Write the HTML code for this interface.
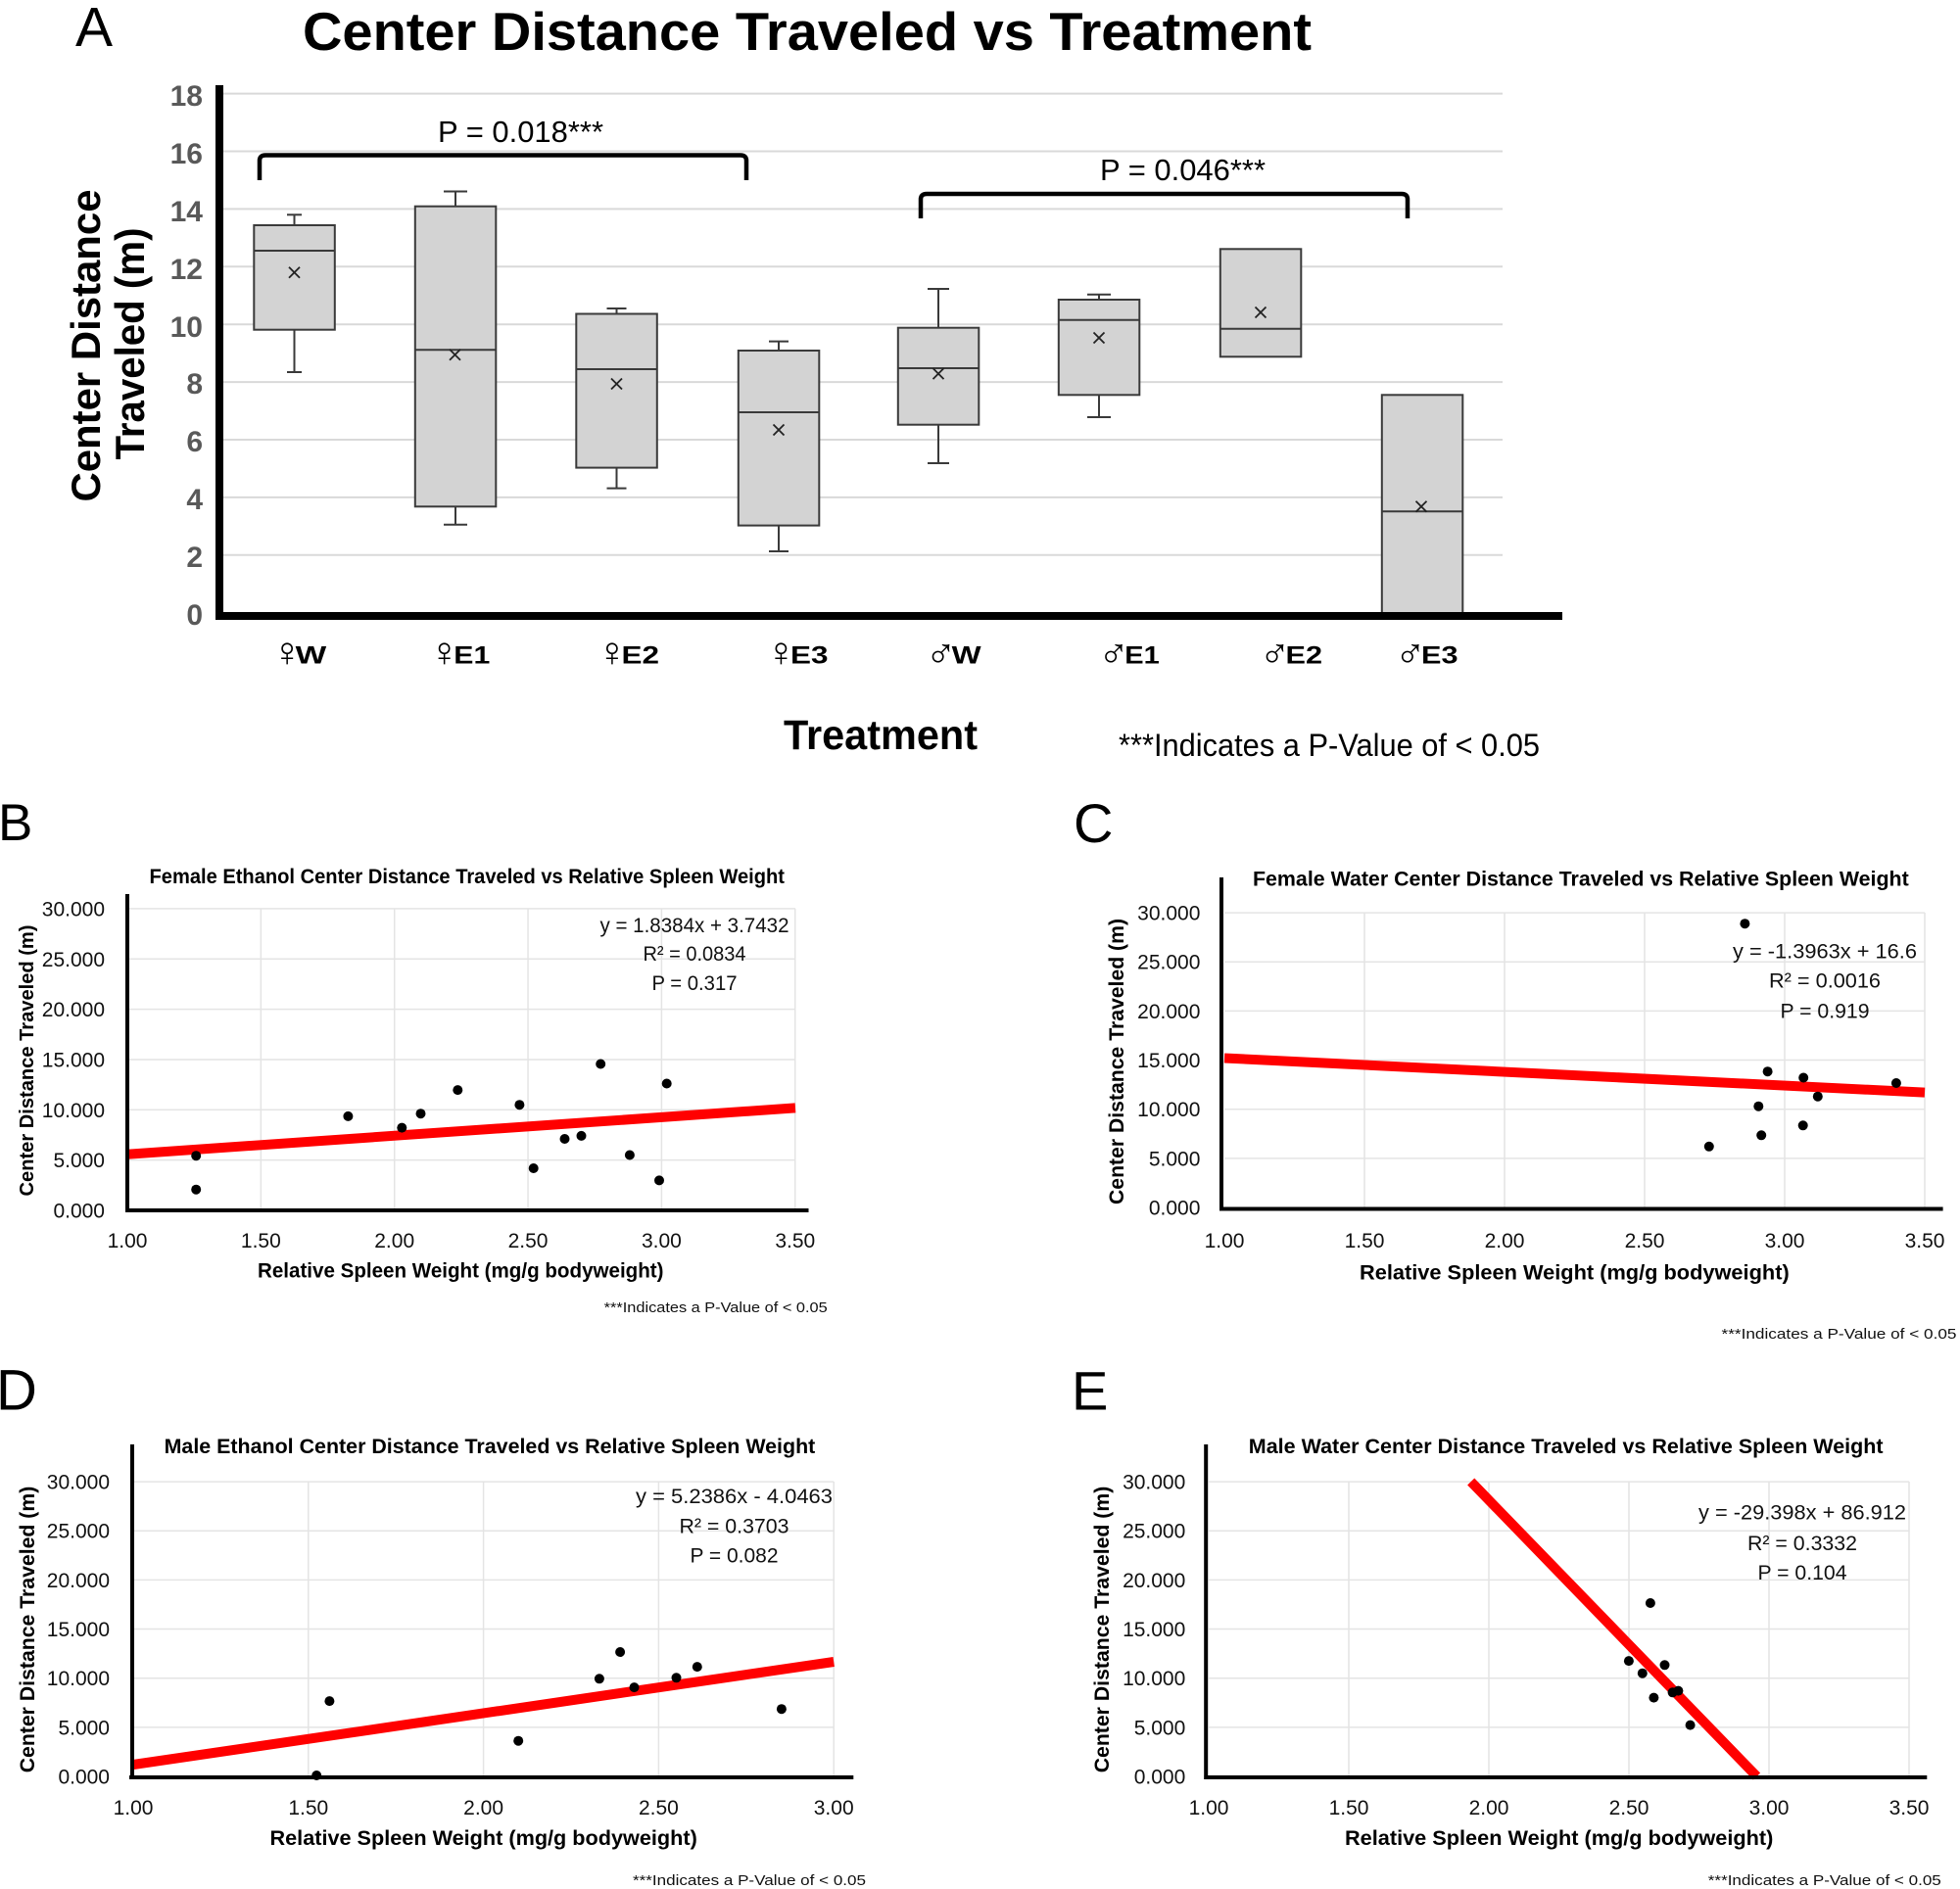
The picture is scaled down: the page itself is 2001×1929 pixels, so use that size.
<!DOCTYPE html>
<html><head><meta charset="utf-8"><style>
html,body{margin:0;padding:0;background:#fff;}
svg{display:block;}
text{font-family:"Liberation Sans","DejaVu Sans",sans-serif;}
</style></head><body>
<svg width="2001" height="1929" viewBox="0 0 2001 1929" xmlns="http://www.w3.org/2000/svg">
<rect width="2001" height="1929" fill="#fff"/>

<!-- ========== PANEL A ========== -->
<text x="77" y="47" font-size="57" fill="#000">A</text>
<text x="309" y="51" font-size="55" font-weight="bold" fill="#000" textLength="1030" lengthAdjust="spacingAndGlyphs">Center Distance Traveled vs Treatment</text>

<g stroke="#d9d9d9" stroke-width="2">
<line x1="228" y1="566.8" x2="1534" y2="566.8"/>
<line x1="228" y1="507.9" x2="1534" y2="507.9"/>
<line x1="228" y1="449" x2="1534" y2="449"/>
<line x1="228" y1="390.1" x2="1534" y2="390.1"/>
<line x1="228" y1="331.2" x2="1534" y2="331.2"/>
<line x1="228" y1="272.3" x2="1534" y2="272.3"/>
<line x1="228" y1="213.4" x2="1534" y2="213.4"/>
<line x1="228" y1="154.5" x2="1534" y2="154.5"/>
<line x1="228" y1="95.6" x2="1534" y2="95.6"/>
</g>

<g font-size="30" font-weight="bold" fill="#595959" text-anchor="end">
<text x="207" y="638">0</text>
<text x="207" y="579">2</text>
<text x="207" y="520">4</text>
<text x="207" y="461">6</text>
<text x="207" y="402">8</text>
<text x="207" y="344">10</text>
<text x="207" y="285">12</text>
<text x="207" y="226">14</text>
<text x="207" y="167">16</text>
<text x="207" y="108">18</text>
</g>

<g font-size="42" font-weight="bold" fill="#000" text-anchor="middle">
<text transform="translate(102,353) rotate(-90)" textLength="319" lengthAdjust="spacingAndGlyphs">Center Distance</text>
<text transform="translate(147,351) rotate(-90)" textLength="237" lengthAdjust="spacingAndGlyphs">Traveled (m)</text>
</g>

<g stroke="#3a3a3a" stroke-width="2" fill="#d3d3d3">
<line x1="300.5" y1="219.3" x2="300.5" y2="230"/><line x1="293" y1="219.3" x2="308" y2="219.3"/>
<line x1="300.5" y1="336.7" x2="300.5" y2="380"/><line x1="293" y1="380" x2="308" y2="380"/>
<rect x="259.3" y="230" width="82.5" height="106.7"/>
<line x1="259.3" y1="256" x2="341.8" y2="256"/>
<line x1="465" y1="195.5" x2="465" y2="210.7"/><line x1="453" y1="195.5" x2="477" y2="195.5"/>
<line x1="465" y1="517.3" x2="465" y2="535.7"/><line x1="453" y1="535.7" x2="477" y2="535.7"/>
<rect x="423.8" y="210.7" width="82.5" height="306.6"/>
<line x1="423.8" y1="357.3" x2="506.3" y2="357.3"/>
<line x1="629.5" y1="315" x2="629.5" y2="320.5"/><line x1="619.5" y1="315" x2="639.5" y2="315"/>
<line x1="629.5" y1="477.6" x2="629.5" y2="498.6"/><line x1="619.5" y1="498.6" x2="639.5" y2="498.6"/>
<rect x="588.3" y="320.5" width="82.5" height="157.1"/>
<line x1="588.3" y1="377" x2="670.8" y2="377"/>
<line x1="795" y1="348.6" x2="795" y2="358"/><line x1="785" y1="348.6" x2="805" y2="348.6"/>
<line x1="795" y1="536.6" x2="795" y2="563"/><line x1="785" y1="563" x2="805" y2="563"/>
<rect x="753.8" y="358" width="82.5" height="178.6"/>
<line x1="753.8" y1="421" x2="836.3" y2="421"/>
<line x1="958" y1="295" x2="958" y2="334.7"/><line x1="947" y1="295" x2="969" y2="295"/>
<line x1="958" y1="433.7" x2="958" y2="473"/><line x1="947" y1="473" x2="969" y2="473"/>
<rect x="916.8" y="334.7" width="82.5" height="99"/>
<line x1="916.8" y1="376" x2="999.3" y2="376"/>
<line x1="1122" y1="300.7" x2="1122" y2="306"/><line x1="1110" y1="300.7" x2="1134" y2="300.7"/>
<line x1="1122" y1="403.3" x2="1122" y2="426"/><line x1="1110" y1="426" x2="1134" y2="426"/>
<rect x="1080.8" y="306" width="82.5" height="97.3"/>
<line x1="1080.8" y1="326.7" x2="1163.3" y2="326.7"/>
<rect x="1245.8" y="254.3" width="82.5" height="110"/>
<line x1="1245.8" y1="335.7" x2="1328.3" y2="335.7"/>
<rect x="1410.8" y="403.3" width="82.5" height="223.4"/>
<line x1="1410.8" y1="522.3" x2="1493.3" y2="522.3"/>
</g>

<g stroke="#222" stroke-width="1.8">
<path d="M295,272.8 L306,283.8 M306,272.8 L295,283.8"/>
<path d="M459,356.8 L470,367.8 M470,356.8 L459,367.8"/>
<path d="M624,386.5 L635,397.5 M635,386.5 L624,397.5"/>
<path d="M789.5,433.5 L800.5,444.5 M800.5,433.5 L789.5,444.5"/>
<path d="M952.5,376.1 L963.5,387.1 M963.5,376.1 L952.5,387.1"/>
<path d="M1116.5,339.5 L1127.5,350.5 M1127.5,339.5 L1116.5,350.5"/>
<path d="M1281.5,313.5 L1292.5,324.5 M1292.5,313.5 L1281.5,324.5"/>
<path d="M1445.5,511.8 L1456.5,522.8 M1456.5,511.8 L1445.5,522.8"/>
</g>

<line x1="224" y1="87" x2="224" y2="633" stroke="#000" stroke-width="8"/>
<line x1="220" y1="629" x2="1595" y2="629" stroke="#000" stroke-width="8"/>

<g fill="none" stroke="#000" stroke-width="4.5" stroke-linejoin="round">
<path d="M265,184 L265,164 Q265,158.5 271,158.5 L756,158.5 Q762,158.5 762,164 L762,184"/>
<path d="M940,223 L940,203.5 Q940,198 946,198 L1431,198 Q1437,198 1437,203.5 L1437,223"/>
</g>
<text x="447" y="145" font-size="31" fill="#000" textLength="169" lengthAdjust="spacingAndGlyphs">P = 0.018***</text>
<text x="1123" y="184" font-size="31" fill="#000" textLength="169" lengthAdjust="spacingAndGlyphs">P = 0.046***</text>

<g font-size="42" font-weight="bold" fill="#000" font-family="'DejaVu Sans',sans-serif" text-anchor="middle">
<text x="293.3" y="680">♀</text>
<text x="453.7" y="680">♀</text>
<text x="625" y="680">♀</text>
<text x="797.5" y="680">♀</text>
<text x="960.5" y="680">♂</text>
<text x="1137" y="680">♂</text>
<text x="1301.5" y="680">♂</text>
<text x="1439.8" y="680">♂</text>
</g>
<g font-size="25" font-weight="bold" fill="#000">
<text x="301.7" y="677.5" textLength="31.6" lengthAdjust="spacingAndGlyphs">W</text>
<text x="463.3" y="677.5" textLength="37" lengthAdjust="spacingAndGlyphs">E1</text>
<text x="634.5" y="677.5" textLength="38.5" lengthAdjust="spacingAndGlyphs">E2</text>
<text x="807" y="677.5" textLength="38.5" lengthAdjust="spacingAndGlyphs">E3</text>
<text x="971.7" y="677.5" textLength="30" lengthAdjust="spacingAndGlyphs">W</text>
<text x="1148.3" y="677.5" textLength="35.5" lengthAdjust="spacingAndGlyphs">E1</text>
<text x="1312.5" y="677.5" textLength="37.5" lengthAdjust="spacingAndGlyphs">E2</text>
<text x="1451" y="677.5" textLength="37.5" lengthAdjust="spacingAndGlyphs">E3</text>
</g>
<text x="800" y="765" font-size="43" font-weight="bold" fill="#000" textLength="198" lengthAdjust="spacingAndGlyphs">Treatment</text>
<text x="1142" y="772" font-size="32" fill="#000" textLength="430" lengthAdjust="spacingAndGlyphs">***Indicates a P-Value of &lt; 0.05</text>

<!-- ========== PANEL B ========== -->
<text x="-2" y="858" font-size="53" fill="#000">B</text>
<text x="152.5" y="902" font-size="21" font-weight="bold" fill="#000" textLength="648.5" lengthAdjust="spacingAndGlyphs">Female Ethanol Center Distance Traveled vs Relative Spleen Weight</text>
<g stroke="#e4e4e4" stroke-width="1.5">
<line x1="130" y1="1184.65" x2="812" y2="1184.65"/>
<line x1="130" y1="1133.3" x2="812" y2="1133.3"/>
<line x1="130" y1="1081.95" x2="812" y2="1081.95"/>
<line x1="130" y1="1030.6" x2="812" y2="1030.6"/>
<line x1="130" y1="979.25" x2="812" y2="979.25"/>
<line x1="130" y1="927.9" x2="812" y2="927.9"/>
<line x1="266.35" y1="928" x2="266.35" y2="1236"/>
<line x1="402.7" y1="928" x2="402.7" y2="1236"/>
<line x1="539.05" y1="928" x2="539.05" y2="1236"/>
<line x1="675.4" y1="928" x2="675.4" y2="1236"/>
<line x1="811.75" y1="928" x2="811.75" y2="1236"/>
</g>
<g font-size="21" fill="#111" text-anchor="end">
<text x="107" y="1243.5">0.000</text>
<text x="107" y="1192">5.000</text>
<text x="107" y="1141">10.000</text>
<text x="107" y="1089.5">15.000</text>
<text x="107" y="1038">20.000</text>
<text x="107" y="987">25.000</text>
<text x="107" y="935.5">30.000</text>
</g>
<g font-size="21" fill="#111" text-anchor="middle">
<text x="130" y="1274">1.00</text>
<text x="266.35" y="1274">1.50</text>
<text x="402.7" y="1274">2.00</text>
<text x="539.05" y="1274">2.50</text>
<text x="675.4" y="1274">3.00</text>
<text x="811.75" y="1274">3.50</text>
</g>
<text x="263" y="1304.5" font-size="21" font-weight="bold" fill="#000" textLength="414.5" lengthAdjust="spacingAndGlyphs">Relative Spleen Weight (mg/g bodyweight)</text>
<text transform="translate(34,1083) rotate(-90)" text-anchor="middle" font-size="20" font-weight="bold" fill="#000" textLength="277" lengthAdjust="spacingAndGlyphs">Center Distance Traveled (m)</text>
<line x1="130" y1="1178.7" x2="812" y2="1131.4" stroke="#ff0000" stroke-width="10"/>
<g fill="#000">
<circle cx="200.2" cy="1180.2" r="5"/><circle cx="200.2" cy="1214.7" r="5"/><circle cx="355.4" cy="1139.9" r="5"/>
<circle cx="410.3" cy="1151.6" r="5"/><circle cx="429.5" cy="1137.2" r="5"/><circle cx="467.3" cy="1113.1" r="5"/>
<circle cx="530.4" cy="1128.2" r="5"/><circle cx="544.7" cy="1193" r="5"/><circle cx="576.5" cy="1163" r="5"/>
<circle cx="593.5" cy="1159.9" r="5"/><circle cx="613.2" cy="1086.5" r="5"/><circle cx="642.9" cy="1179.5" r="5"/>
<circle cx="673" cy="1205.4" r="5"/><circle cx="680.7" cy="1106.5" r="5"/>
</g>
<line x1="130" y1="913" x2="130" y2="1238" stroke="#000" stroke-width="4"/>
<line x1="128" y1="1236" x2="825.5" y2="1236" stroke="#000" stroke-width="4"/>
<g font-size="21" fill="#111" text-anchor="middle">
<text x="709" y="952" textLength="193" lengthAdjust="spacingAndGlyphs">y = 1.8384x + 3.7432</text>
<text x="709" y="981" textLength="105" lengthAdjust="spacingAndGlyphs">R² = 0.0834</text>
<text x="709" y="1010.8" textLength="87" lengthAdjust="spacingAndGlyphs">P = 0.317</text>
</g>
<text x="844.7" y="1340" font-size="15" fill="#111" text-anchor="end" textLength="228" lengthAdjust="spacingAndGlyphs">***Indicates a P-Value of &lt; 0.05</text>

<!-- ========== PANEL C ========== -->
<text x="1096" y="860" font-size="56" fill="#000">C</text>
<text x="1279" y="904.4" font-size="21" font-weight="bold" fill="#000" textLength="669.7" lengthAdjust="spacingAndGlyphs">Female Water Center Distance Traveled vs Relative Spleen Weight</text>
<g stroke="#e4e4e4" stroke-width="1.5">
<line x1="1250" y1="1182.85" x2="1965" y2="1182.85"/>
<line x1="1250" y1="1132.7" x2="1965" y2="1132.7"/>
<line x1="1250" y1="1082.55" x2="1965" y2="1082.55"/>
<line x1="1250" y1="1032.4" x2="1965" y2="1032.4"/>
<line x1="1250" y1="982.25" x2="1965" y2="982.25"/>
<line x1="1250" y1="932.1" x2="1965" y2="932.1"/>
<line x1="1393" y1="932" x2="1393" y2="1233"/>
<line x1="1536" y1="932" x2="1536" y2="1233"/>
<line x1="1679" y1="932" x2="1679" y2="1233"/>
<line x1="1822" y1="932" x2="1822" y2="1233"/>
<line x1="1965" y1="932" x2="1965" y2="1233"/>
</g>
<g font-size="21" fill="#111" text-anchor="end">
<text x="1225.4" y="1240.5">0.000</text>
<text x="1225.4" y="1190.3">5.000</text>
<text x="1225.4" y="1140.2">10.000</text>
<text x="1225.4" y="1090">15.000</text>
<text x="1225.4" y="1039.9">20.000</text>
<text x="1225.4" y="989.7">25.000</text>
<text x="1225.4" y="939.6">30.000</text>
</g>
<g font-size="21" fill="#111" text-anchor="middle">
<text x="1250" y="1274">1.00</text>
<text x="1393" y="1274">1.50</text>
<text x="1536" y="1274">2.00</text>
<text x="1679" y="1274">2.50</text>
<text x="1822" y="1274">3.00</text>
<text x="1965" y="1274">3.50</text>
</g>
<text x="1388" y="1306.5" font-size="21" font-weight="bold" fill="#000" textLength="438.7" lengthAdjust="spacingAndGlyphs">Relative Spleen Weight (mg/g bodyweight)</text>
<text transform="translate(1147,1084) rotate(-90)" text-anchor="middle" font-size="21" font-weight="bold" fill="#000" textLength="292" lengthAdjust="spacingAndGlyphs">Center Distance Traveled (m)</text>
<line x1="1250" y1="1080.5" x2="1965" y2="1115.6" stroke="#ff0000" stroke-width="10"/>
<g fill="#000">
<circle cx="1781.4" cy="943.2" r="5"/><circle cx="1804.6" cy="1094.2" r="5"/><circle cx="1841.2" cy="1100.5" r="5"/>
<circle cx="1935.9" cy="1106" r="5"/><circle cx="1855.8" cy="1119.7" r="5"/><circle cx="1795.3" cy="1129.7" r="5"/>
<circle cx="1840.7" cy="1149.3" r="5"/><circle cx="1798.2" cy="1159.3" r="5"/><circle cx="1744.8" cy="1170.8" r="5"/>
</g>
<line x1="1247" y1="896" x2="1247" y2="1236.5" stroke="#000" stroke-width="4"/>
<line x1="1245.7" y1="1234.5" x2="1983.6" y2="1234.5" stroke="#000" stroke-width="4"/>
<g font-size="21" fill="#111" text-anchor="middle">
<text x="1863" y="978.4" textLength="188" lengthAdjust="spacingAndGlyphs">y = -1.3963x + 16.6</text>
<text x="1863" y="1008.7" textLength="114" lengthAdjust="spacingAndGlyphs">R² = 0.0016</text>
<text x="1863" y="1039.4" textLength="91" lengthAdjust="spacingAndGlyphs">P = 0.919</text>
</g>
<text x="1997.5" y="1367" font-size="15" fill="#111" text-anchor="end" textLength="240" lengthAdjust="spacingAndGlyphs">***Indicates a P-Value of &lt; 0.05</text>

<!-- ========== PANEL D ========== -->
<text x="-4" y="1439.5" font-size="58" fill="#000">D</text>
<text x="167.6" y="1484" font-size="21" font-weight="bold" fill="#000" textLength="664.7" lengthAdjust="spacingAndGlyphs">Male Ethanol Center Distance Traveled vs Relative Spleen Weight</text>
<g stroke="#e4e4e4" stroke-width="1.5">
<line x1="136" y1="1763.85" x2="851.2" y2="1763.85"/>
<line x1="136" y1="1713.7" x2="851.2" y2="1713.7"/>
<line x1="136" y1="1663.55" x2="851.2" y2="1663.55"/>
<line x1="136" y1="1613.4" x2="851.2" y2="1613.4"/>
<line x1="136" y1="1563.25" x2="851.2" y2="1563.25"/>
<line x1="136" y1="1513.1" x2="851.2" y2="1513.1"/>
<line x1="314.8" y1="1513" x2="314.8" y2="1814"/>
<line x1="493.6" y1="1513" x2="493.6" y2="1814"/>
<line x1="672.4" y1="1513" x2="672.4" y2="1814"/>
<line x1="851.2" y1="1513" x2="851.2" y2="1814"/>
</g>
<g font-size="21" fill="#111" text-anchor="end">
<text x="112" y="1821.5">0.000</text>
<text x="112" y="1771.3">5.000</text>
<text x="112" y="1721.2">10.000</text>
<text x="112" y="1671">15.000</text>
<text x="112" y="1620.9">20.000</text>
<text x="112" y="1570.7">25.000</text>
<text x="112" y="1520.6">30.000</text>
</g>
<g font-size="21" fill="#111" text-anchor="middle">
<text x="136" y="1853">1.00</text>
<text x="314.8" y="1853">1.50</text>
<text x="493.6" y="1853">2.00</text>
<text x="672.4" y="1853">2.50</text>
<text x="851.2" y="1853">3.00</text>
</g>
<text x="275.5" y="1884" font-size="21" font-weight="bold" fill="#000" textLength="436.3" lengthAdjust="spacingAndGlyphs">Relative Spleen Weight (mg/g bodyweight)</text>
<text transform="translate(35,1664) rotate(-90)" text-anchor="middle" font-size="21" font-weight="bold" fill="#000" textLength="292.6" lengthAdjust="spacingAndGlyphs">Center Distance Traveled (m)</text>
<line x1="136" y1="1802" x2="851.2" y2="1697" stroke="#ff0000" stroke-width="10"/>
<g fill="#000">
<circle cx="323.2" cy="1813" r="5"/><circle cx="336.4" cy="1737.1" r="5"/><circle cx="529.2" cy="1777.7" r="5"/>
<circle cx="611.9" cy="1714.3" r="5"/><circle cx="633.1" cy="1687" r="5"/><circle cx="647.5" cy="1723.1" r="5"/>
<circle cx="690.5" cy="1713.3" r="5"/><circle cx="711.8" cy="1702.1" r="5"/><circle cx="797.9" cy="1745.2" r="5"/>
</g>
<line x1="135" y1="1475" x2="135" y2="1817" stroke="#000" stroke-width="4"/>
<line x1="132" y1="1815" x2="871.3" y2="1815" stroke="#000" stroke-width="4"/>
<g font-size="21" fill="#111" text-anchor="middle">
<text x="749.5" y="1535" textLength="201" lengthAdjust="spacingAndGlyphs">y = 5.2386x - 4.0463</text>
<text x="749.5" y="1565.6" textLength="112" lengthAdjust="spacingAndGlyphs">R² = 0.3703</text>
<text x="749.5" y="1595.3" textLength="90" lengthAdjust="spacingAndGlyphs">P = 0.082</text>
</g>
<text x="884" y="1925" font-size="15" fill="#111" text-anchor="end" textLength="238" lengthAdjust="spacingAndGlyphs">***Indicates a P-Value of &lt; 0.05</text>

<!-- ========== PANEL E ========== -->
<text x="1094" y="1439.5" font-size="56" fill="#000">E</text>
<text x="1274.8" y="1484" font-size="21" font-weight="bold" fill="#000" textLength="647.8" lengthAdjust="spacingAndGlyphs">Male Water Center Distance Traveled vs Relative Spleen Weight</text>
<g stroke="#e4e4e4" stroke-width="1.5">
<line x1="1234" y1="1763.85" x2="1949" y2="1763.85"/>
<line x1="1234" y1="1713.7" x2="1949" y2="1713.7"/>
<line x1="1234" y1="1663.55" x2="1949" y2="1663.55"/>
<line x1="1234" y1="1613.4" x2="1949" y2="1613.4"/>
<line x1="1234" y1="1563.25" x2="1949" y2="1563.25"/>
<line x1="1234" y1="1513.1" x2="1949" y2="1513.1"/>
<line x1="1377" y1="1513" x2="1377" y2="1814"/>
<line x1="1520" y1="1513" x2="1520" y2="1814"/>
<line x1="1663" y1="1513" x2="1663" y2="1814"/>
<line x1="1806" y1="1513" x2="1806" y2="1814"/>
<line x1="1949" y1="1513" x2="1949" y2="1814"/>
</g>
<g font-size="21" fill="#111" text-anchor="end">
<text x="1210.3" y="1821.5">0.000</text>
<text x="1210.3" y="1771.3">5.000</text>
<text x="1210.3" y="1721.2">10.000</text>
<text x="1210.3" y="1671">15.000</text>
<text x="1210.3" y="1620.9">20.000</text>
<text x="1210.3" y="1570.7">25.000</text>
<text x="1210.3" y="1520.6">30.000</text>
</g>
<g font-size="21" fill="#111" text-anchor="middle">
<text x="1234" y="1853">1.00</text>
<text x="1377" y="1853">1.50</text>
<text x="1520" y="1853">2.00</text>
<text x="1663" y="1853">2.50</text>
<text x="1806" y="1853">3.00</text>
<text x="1949" y="1853">3.50</text>
</g>
<text x="1373" y="1884" font-size="21" font-weight="bold" fill="#000" textLength="437.4" lengthAdjust="spacingAndGlyphs">Relative Spleen Weight (mg/g bodyweight)</text>
<text transform="translate(1132,1664) rotate(-90)" text-anchor="middle" font-size="21" font-weight="bold" fill="#000" textLength="292.6" lengthAdjust="spacingAndGlyphs">Center Distance Traveled (m)</text>
<line x1="1501.7" y1="1513" x2="1793.5" y2="1814" stroke="#ff0000" stroke-width="10"/>
<g fill="#000">
<circle cx="1684.9" cy="1637" r="5"/><circle cx="1662.9" cy="1696.1" r="5"/><circle cx="1699.5" cy="1700.3" r="5"/>
<circle cx="1676.8" cy="1708.7" r="5"/><circle cx="1688.4" cy="1733.6" r="5"/><circle cx="1707.6" cy="1728.3" r="5"/>
<circle cx="1713.4" cy="1726.6" r="5"/><circle cx="1725.6" cy="1761.6" r="5"/>
</g>
<line x1="1231.2" y1="1475" x2="1231.2" y2="1817" stroke="#000" stroke-width="4"/>
<line x1="1229.4" y1="1815" x2="1967.3" y2="1815" stroke="#000" stroke-width="4"/>
<g font-size="21" fill="#111" text-anchor="middle">
<text x="1840" y="1551.5" textLength="212" lengthAdjust="spacingAndGlyphs">y = -29.398x + 86.912</text>
<text x="1840" y="1583" textLength="112" lengthAdjust="spacingAndGlyphs">R² = 0.3332</text>
<text x="1840" y="1612.8" textLength="91" lengthAdjust="spacingAndGlyphs">P = 0.104</text>
</g>
<text x="1981.8" y="1925" font-size="15" fill="#111" text-anchor="end" textLength="238" lengthAdjust="spacingAndGlyphs">***Indicates a P-Value of &lt; 0.05</text>

</svg>
</body></html>
